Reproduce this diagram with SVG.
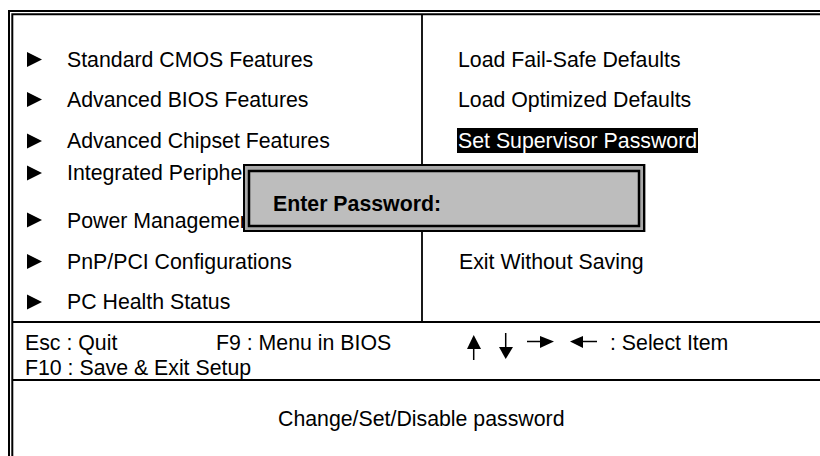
<svg xmlns="http://www.w3.org/2000/svg" width="820" height="456" viewBox="0 0 820 456">
<style>
text{font-family:"Liberation Sans",Arial,sans-serif;font-size:21.3px;fill:#000}
.l{stroke:#000;stroke-width:2;fill:none}
.t{stroke:#000;stroke-width:1.8;fill:none}
.s{stroke:#000;stroke-width:1.5;fill:none}
</style>
<defs><path id="b" d="M0 -7.5L15 0L0 7.5Z" fill="#000"/></defs>
<rect width="820" height="456" fill="#fff"/>
<g id="frame">
<path class="l" d="M820 11H9V456"/>
<path class="l" d="M820 14.300H12.300V456"/>
<path class="t" d="M422 14V322"/>
<path class="l" d="M12 322H820"/>
<path class="l" d="M12 380H820"/>
</g>
<g id="menu-left">
<use href="#b" x="27" y="59.500"/><text x="67" y="67">Standard CMOS Features</text>
<use href="#b" x="27" y="99.500"/><text x="67" y="106.500">Advanced BIOS Features</text>
<use href="#b" x="27" y="141"/><text x="67" y="148">Advanced Chipset Features</text>
<use href="#b" x="27" y="173"/><text x="67" y="180">Integrated Periphe</text>
<use href="#b" x="27" y="220"/><text x="67" y="228">Power Managemer</text>
<use href="#b" x="27" y="261.500"/><text x="67" y="269">PnP/PCI Configurations</text>
<use href="#b" x="27" y="302"/><text x="67" y="308.500">PC Health Status</text>
</g>
<g id="menu-right">
<text x="458" y="67">Load Fail-Safe Defaults</text>
<text x="458" y="106.500">Load Optimized Defaults</text>
<rect x="457" y="128" width="241" height="25" fill="#000"/>
<text x="458" y="148" style="fill:#fff">Set Supervisor Password</text>
<text x="459" y="269">Exit Without Saving</text>
</g>
<g id="dialog">
<rect x="243" y="164" width="403" height="68" fill="#a0a0a0"/>
<rect x="244" y="165" width="400" height="66" fill="#a8a8a8" stroke="#000" stroke-width="2"/>
<rect x="249" y="171" width="390" height="55" fill="#bdbdbd" stroke="#000" stroke-width="2.500"/>
<text x="273" y="211" style="font-weight:bold">Enter Password:</text>
</g>
<g id="footer">
<text x="25" y="350">Esc : Quit</text>
<text x="216" y="350">F9 : Menu in BIOS</text>
<text x="25" y="375">F10 : Save &amp; Exit Setup</text>
<path class="s" d="M473.700 360V345"/><path d="M467 349L473.700 335L481 349Z"/>
<path class="s" d="M505.700 333V350"/><path d="M499 347L505.700 359L513 347Z"/>
<path class="s" d="M527 341.500H545"/><path d="M540 336L554 341.500L540 348Z"/>
<path class="s" d="M597 341.500H578"/><path d="M583 336L570 341.500L583 348Z"/>
<text x="610" y="350">: Select Item</text>
<text x="278" y="426">Change/Set/Disable password</text>
</g>
</svg>
